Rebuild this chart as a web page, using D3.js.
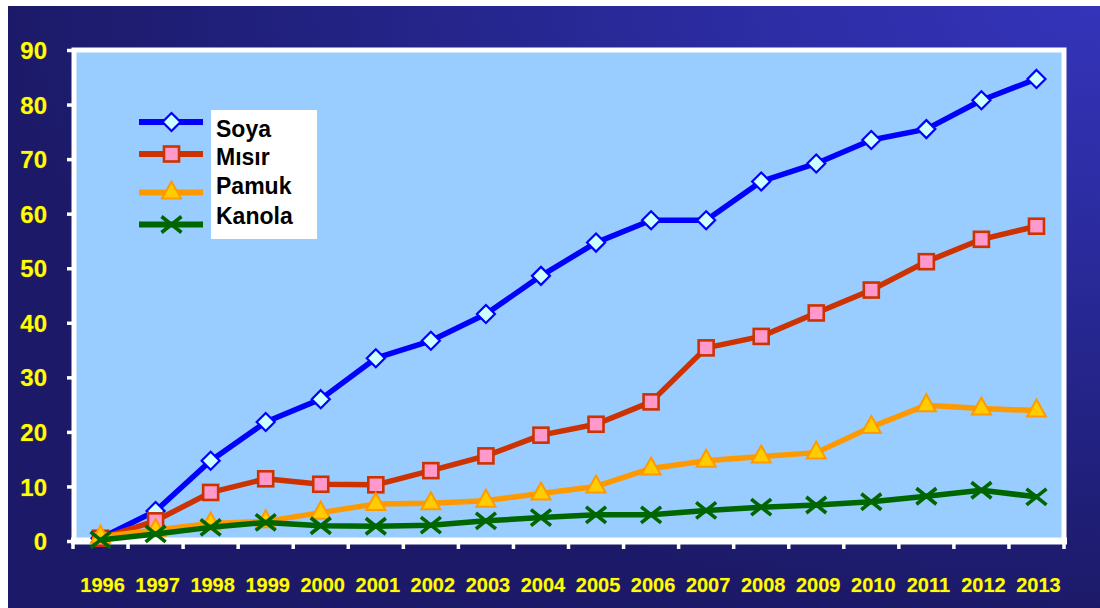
<!DOCTYPE html>
<html>
<head>
<meta charset="utf-8">
<script src="https://cdn.jsdelivr.net/npm/d3@7"></script>
<style>
  html, body { margin: 0; padding: 0; background: #ffffff; }
  svg { display: block; }
  text { font-family: Arial, "Liberation Sans", sans-serif; font-weight: bold; }
</style>
</head>
<body>
<svg id="chart" width="1100" height="608"></svg>
<script>
// Years on the x axis
const years = ["1996","1997","1998","1999","2000","2001","2002","2003","2004",
               "2005","2006","2007","2008","2009","2010","2011","2012","2013"];

// Adoption values per crop
const soya   = [0.5, 5.5, 14.7, 21.8, 26.0, 33.5, 36.7, 41.6, 48.6, 54.7, 58.8, 58.8, 65.9, 69.2, 73.5, 75.5, 80.8, 84.7];
const misir  = [0.5, 3.7, 8.9, 11.4, 10.4, 10.3, 12.9, 15.6, 19.4, 21.4, 25.5, 35.4, 37.5, 41.8, 46.0, 51.2, 55.3, 57.7];
const pamuk  = [0.8, 2.0, 3.2, 3.6, 5.2, 6.8, 6.9, 7.4, 8.7, 10.0, 13.3, 14.7, 15.5, 16.2, 20.9, 24.9, 24.3, 23.9];
const kanola = [0.2, 1.3, 2.5, 3.4, 2.8, 2.7, 2.9, 3.7, 4.3, 4.8, 4.8, 5.6, 6.2, 6.6, 7.2, 8.2, 9.3, 8.1];

// Series names shown in the legend
const seriesNames = ["Soya", "Mısır", "Pamuk", "Kanola"];

// Y axis tick labels
const yTicks = [0, 10, 20, 30, 40, 50, 60, 70, 80, 90];

const series = [
  { name: seriesNames[0], values: soya,   line: "#0000FF", marker: "diamond",  fill: "#CCFFFF", stroke: "#0000FF" },
  { name: seriesNames[1], values: misir,  line: "#CC3300", marker: "square",   fill: "#FF99CC", stroke: "#CC3300" },
  { name: seriesNames[2], values: pamuk,  line: "#FF9900", marker: "triangle", fill: "#FFCC00", stroke: "#FF9900" },
  { name: seriesNames[3], values: kanola, line: "#006600", marker: "cross",    fill: "none",    stroke: "#006600" }
];

const svg = d3.select("#chart");
const defs = svg.append("defs");

// Navy backdrop, brighter toward the top-right corner
const grad = defs.append("radialGradient")
  .attr("id", "bg")
  .attr("cx", 1).attr("cy", 0).attr("r", 1)
  .attr("fx", 1).attr("fy", 0);
grad.append("stop").attr("offset", 0).attr("stop-color", "#3434ba");
grad.append("stop").attr("offset", 0.3).attr("stop-color", "#2d2da5");
grad.append("stop").attr("offset", 0.7).attr("stop-color", "#222283");
grad.append("stop").attr("offset", 1).attr("stop-color", "#1c1a68");

svg.append("rect")
  .attr("x", 8).attr("y", 6).attr("width", 1092).attr("height", 602)
  .attr("fill", "url(#bg)");

// Plot geometry
const L = 73, R = 1064, T = 50, B = 541;

const x = d3.scaleBand().domain(years).range([L, R]).padding(0);
const y = d3.scaleLinear().domain([0, 90]).range([B, T]);
const cx = d => x(d) + x.bandwidth() / 2;

// Plot area with white frame
svg.append("rect")
  .attr("x", L + 1).attr("y", T).attr("width", R - L - 1).attr("height", B - T)
  .attr("fill", "#99CCFF")
  .attr("stroke", "#ffffff").attr("stroke-width", 5);

// Y axis
const yAxis = svg.append("g").attr("transform", `translate(${L + 1},0)`)
  .call(d3.axisLeft(y).tickValues(yTicks).tickSize(7).tickPadding(0).tickFormat(d3.format("d")));
yAxis.select(".domain").remove();
yAxis.selectAll(".tick line").attr("stroke", "#ffffff").attr("stroke-width", 3.5);
yAxis.selectAll(".tick text")
  .attr("x", 47 - (L + 1))
  .attr("dy", "0.36em")
  .attr("text-anchor", "end")
  .attr("fill", "#FFFF00")
  .attr("stroke", "#7a5a2a").attr("stroke-width", 0.6).attr("paint-order", "stroke")
  .style("font-size", "24px");

// X axis: ticks sit on the category boundaries
const xAxisG = svg.append("g").attr("transform", `translate(0,${B})`);
xAxisG.append("line")
  .attr("x1", L - 2).attr("x2", R + 3).attr("y1", 0).attr("y2", 0)
  .attr("stroke", "#ffffff").attr("stroke-width", 7);
xAxisG.selectAll("line.tk")
  .data(years.concat(["end"]))
  .join("line")
  .attr("class", "tk")
  .attr("x1", (d, i) => i < years.length ? x(d) : R)
  .attr("x2", (d, i) => i < years.length ? x(d) : R)
  .attr("y1", 0).attr("y2", 8)
  .attr("stroke", "#ffffff").attr("stroke-width", 3.5);
xAxisG.selectAll("text")
  .data(years)
  .join("text")
  .attr("x", d => cx(d) + 2)
  .attr("y", 592 - B)
  .attr("text-anchor", "middle")
  .attr("fill", "#FFFF00")
  .attr("stroke", "#7a5a2a").attr("stroke-width", 0.6).attr("paint-order", "stroke")
  .style("font-size", "20px")
  .text(d => d);

// Marker drawing
function drawMarker(g, s, px, py) {
  if (s.marker === "diamond") {
    g.append("path")
      .attr("d", `M${px},${py - 9}L${px + 9},${py}L${px},${py + 9}L${px - 9},${py}Z`)
      .attr("fill", s.fill).attr("stroke", s.stroke).attr("stroke-width", 2.2);
  } else if (s.marker === "square") {
    g.append("rect")
      .attr("x", px - 7.5).attr("y", py - 7.5).attr("width", 15).attr("height", 15)
      .attr("fill", s.fill).attr("stroke", s.stroke).attr("stroke-width", 2.6);
  } else if (s.marker === "triangle") {
    g.append("path")
      .attr("d", `M${px},${py - 11}L${px + 9.5},${py + 6}L${px - 9.5},${py + 6}Z`)
      .attr("fill", s.fill).attr("stroke", s.stroke).attr("stroke-width", 2);
  } else {
    g.append("path")
      .attr("d", `M${px - 10},${py - 8}L${px + 10},${py + 8}M${px - 10},${py + 8}L${px + 10},${py - 8}`)
      .attr("fill", "none").attr("stroke", s.stroke).attr("stroke-width", 3.6);
  }
}

// Series lines and markers
const lineGen = d3.line().x((d, i) => cx(years[i])).y(d => y(d));
series.forEach(s => {
  const g = svg.append("g");
  g.append("path")
    .attr("d", lineGen(s.values))
    .attr("fill", "none")
    .attr("stroke", s.line)
    .attr("stroke-width", 5.5)
    .attr("stroke-linejoin", "round");
  s.values.forEach((v, i) => drawMarker(g, s, cx(years[i]), y(v)));
});

// Legend
const legend = svg.append("g");
legend.append("rect")
  .attr("x", 211).attr("y", 110).attr("width", 106).attr("height", 129)
  .attr("fill", "#ffffff");
const legendRows = [122, 154, 192.5, 224.5];
const legendText = [137, 165, 194, 224];
series.forEach((s, i) => {
  legend.append("line")
    .attr("x1", 139).attr("x2", 203)
    .attr("y1", legendRows[i]).attr("y2", legendRows[i])
    .attr("stroke", s.line).attr("stroke-width", 6);
  drawMarker(legend, s, 171.5, legendRows[i]);
  legend.append("text")
    .attr("x", 216).attr("y", legendText[i])
    .attr("fill", "#000000")
    .style("font-size", "23px")
    .text(s.name);
});
</script>
</body>
</html>
